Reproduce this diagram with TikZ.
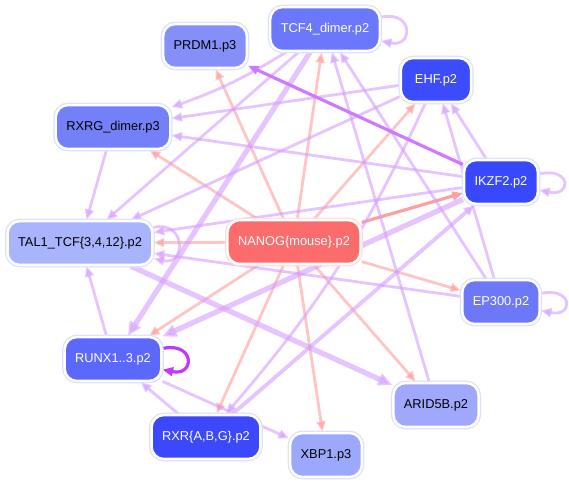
\documentclass[tikz,border=0pt]{standalone}
\usepackage{fontspec}
\setsansfont{Liberation Sans}
\usetikzlibrary{arrows.meta,backgrounds}
\definecolor{prdmcol}{HTML}{8490F8}
\definecolor{tcfcol}{HTML}{6C78FC}
\definecolor{ehfcol}{HTML}{3C4CFC}
\definecolor{rxrgcol}{HTML}{7480F8}
\definecolor{ikzfcol}{HTML}{3848FC}
\definecolor{talcol}{HTML}{A8B4FC}
\definecolor{nanogcol}{HTML}{FC6C6C}
\definecolor{epcol}{HTML}{6C78F8}
\definecolor{runxcol}{HTML}{5C68FC}
\definecolor{aridcol}{HTML}{A0A8FC}
\definecolor{rxrcol}{HTML}{3C48FC}
\definecolor{xbpcol}{HTML}{9CA8FC}
\definecolor{rimcol}{HTML}{DCE0FF}
\definecolor{nanogrim}{HTML}{FFDCDC}
\definecolor{lavcol}{HTML}{D49CFF}
\definecolor{rosecol}{HTML}{FF8C8C}
\definecolor{strongrose}{HTML}{FFA0A0}
\definecolor{violetcol}{HTML}{D078FF}
\definecolor{loopcol}{HTML}{C038F8}

\begin{document}
\begin{tikzpicture}[x=0.02cm, y=-0.02cm, font=\sffamily\fontsize{7.3}{9}\selectfont,
  tf/.style={rounded corners=7pt, minimum height=25pt, minimum width=40pt, inner xsep=6pt, draw=white, line width=1.4pt, preaction={draw=#1, line width=2.8pt}},
  tf/.default=rimcol,
  lav/.style={draw=lavcol, opacity=0.6, line width=1.6pt, -{Triangle[length=6pt,width=5pt]}},
  lavthick/.style={lav, line width=3pt, -{Triangle[length=8pt,width=7pt]}},
  rose/.style={draw=rosecol, opacity=0.5, line width=1.6pt, -{Triangle[length=6pt,width=5pt]}},
  selfloop/.style={out=12, in=-12, looseness=1, min distance=19pt}]
\useasboundingbox (0,0) rectangle (569,485);

\node[tf, fill=prdmcol] (prdm) at (205,46) {PRDM1.p3};
\node[tf, fill=tcfcol, text=white] (tcf) at (325,29) {TCF4\_dimer.p2};
\node[tf, fill=ehfcol, text=white] (ehf) at (436,80) {EHF.p2};
\node[tf, fill=rxrgcol] (rxrg) at (113,127) {RXRG\_dimer.p3};
\node[tf, fill=ikzfcol, text=white] (ikzf) at (501,182) {IKZF2.p2};
\node[tf, fill=talcol] (tal) at (80,243) {TAL1\_TCF\{3,4,12\}.p2};
\node[tf=nanogrim, fill=nanogcol, text=white] (nanog) at (294,242) {NANOG\{mouse\}.p2};
\node[tf, fill=epcol, text=white] (ep) at (501,302) {EP300.p2};
\node[tf, fill=runxcol, text=white] (runx) at (113,359) {RUNX1..3.p2};
\node[tf, fill=aridcol] (arid) at (436,405) {ARID5B.p2};
\node[tf, fill=rxrcol, text=white] (rxr) at (206,437) {RXR\{A,B,G\}.p2};
\node[tf, fill=xbpcol] (xbp) at (326,455) {XBP1.p3};

\begin{scope}[on background layer]
\draw[rose] (nanog) -- (prdm);
\draw[rose] (nanog) -- (tcf);
\draw[rose] (nanog) -- (ehf);
\draw[rose] (nanog) -- (rxrg);
\draw[rose] (nanog) -- (tal);
\draw[rose] (nanog) -- (ep);
\draw[rose] (nanog) -- (arid);
\draw[rose] (nanog) -- (xbp);
\draw[rose] (nanog) -- (runx);
\draw[rose] (nanog) -- (rxr);
\draw[rose, draw=strongrose, opacity=1, line width=1.8pt] (nanog) -- (ikzf);

\draw[lav] (tcf) to[bend left=6] (rxrg);
\draw[lav] (ehf) -- (rxrg);
\draw[lav] (ikzf) -- (rxrg);
\draw[lav] (rxrg) -- (tal);
\draw[lav] (tcf) -- (tal);
\draw[lav] (ehf) -- (tal);
\draw[lav] (ikzf) -- (tal);
\draw[lav] (ep) -- (tal);
\draw[lav] (runx) -- (tal);
\draw[lavthick] (tcf) -- (runx);
\draw[lavthick] (ikzf) -- (runx);
\draw[lav] (rxr) -- (runx);
\draw[lav] (runx) -- (xbp);
\draw[lavthick] (tal) -- (arid);
\draw[lav] (arid) -- (tcf);
\draw[lav] (ep) -- (tcf);
\draw[lav] (ikzf) -- (ehf);
\draw[lav] (ep) -- (ehf);
\draw[lav] (ehf) to[bend left=8] (rxr);
\draw[lav, line width=2.2pt] (rxr) -- (ikzf);
\draw[lav, draw=violetcol, opacity=1, line width=1.8pt] (ikzf) -- (prdm);

\draw[lav] (tcf) to[selfloop] (tcf);
\draw[lav] (ikzf) to[selfloop] (ikzf);
\draw[lav] (ep) to[selfloop] (ep);
\draw[lav] (tal) to[selfloop] (tal);
\draw[lav, draw=loopcol, opacity=1, line width=1.8pt] (runx) to[selfloop] (runx);
\end{scope}
\end{tikzpicture}
\end{document}
